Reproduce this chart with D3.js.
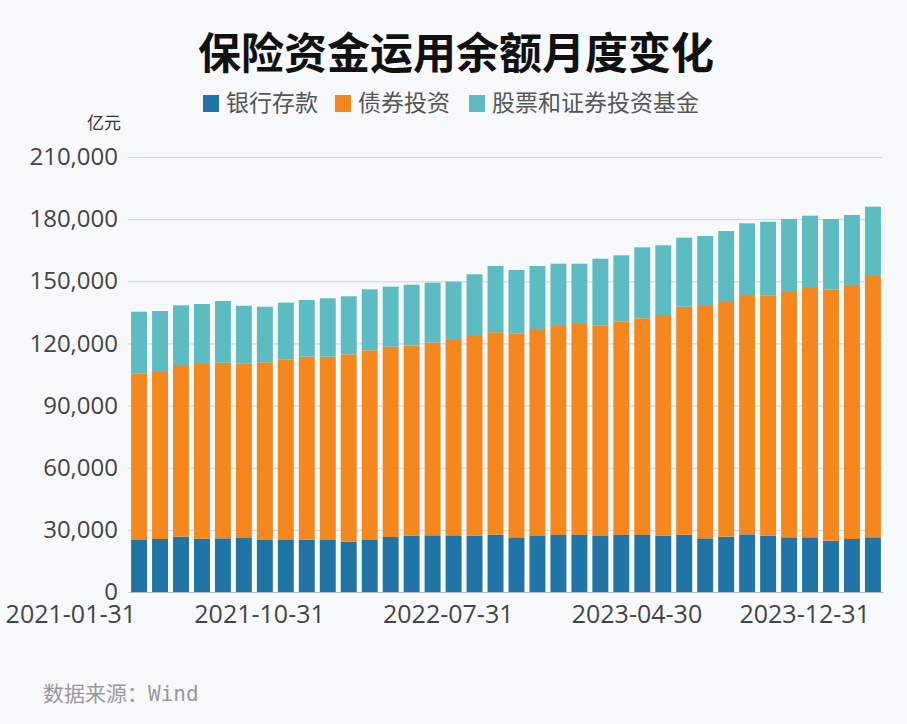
<!DOCTYPE html>
<html>
<head>
<meta charset="utf-8">
<script src="https://cdn.jsdelivr.net/npm/d3@7/dist/d3.min.js"></script>
<style>
  html, body { margin: 0; padding: 0; background: #f8f9fb; }
  svg { display: block; }
</style>
</head>
<body>
<svg id="chart" width="907" height="724"></svg>
<script>
const categories = [
  "2021-01-31","2021-02-28","2021-03-31","2021-04-30","2021-05-31","2021-06-30",
  "2021-07-31","2021-08-31","2021-09-30","2021-10-31","2021-11-30","2021-12-31",
  "2022-01-31","2022-02-28","2022-03-31","2022-04-30","2022-05-31","2022-06-30",
  "2022-07-31","2022-08-31","2022-09-30","2022-10-31","2022-11-30","2022-12-31",
  "2023-01-31","2023-02-28","2023-03-31","2023-04-30","2023-05-31","2023-06-30",
  "2023-07-31","2023-08-31","2023-09-30","2023-10-31","2023-11-30","2023-12-31"
];
const seriesNames = ["银行存款", "债券投资", "股票和证券投资基金"];
const deposits = [
  25100, 25590, 26700, 25730, 25910, 26070, 25100, 25100, 25270, 25100, 24300, 25100,
  26550, 27180, 27350, 27350, 27180, 27660, 26400, 27030, 27520, 27520, 27030, 27520,
  27520, 27180, 27660, 25910, 26700, 27840, 27180, 26400, 26400, 24770, 25590, 26400
];
const bonds = [
  80480, 80620, 82890, 84340, 84790, 84340, 85790, 87240, 88320, 88490, 90450, 91580,
  91870, 91720, 93000, 94310, 96410, 97740, 98490, 99450, 100900, 101860, 101530, 102970,
  104610, 106540, 110070, 112160, 113780, 115540, 115860, 118430, 120360, 121360, 122620, 126150
];
const stocks = [
  29740, 29440, 28810, 28970, 29780, 27800, 26840, 27320, 27380, 28200, 28000, 29450,
  28980, 29460, 28970, 28140, 29780, 31980, 30560, 30900, 30080, 29120, 32350, 32060,
  34280, 33650, 33310, 33790, 33790, 34610, 35720, 35240, 34900, 33940, 33790, 33460
];
const yTicks = [0, 30000, 60000, 90000, 120000, 150000, 180000, 210000];
const xTickLabels = ["2021-01-31", "2021-10-31", "2022-07-31", "2023-04-30", "2023-12-31"];
const colors = ["#2175a6", "#f5871f", "#5cbcc2"];

const svg = d3.select("#chart");
const W = 907, H = 724;
svg.append("rect").attr("width", W).attr("height", H).attr("fill", "#f8f9fb");

const plot = { left: 129, right: 883, top: 157, bottom: 592 };

const rows = categories.map((c, i) => ({ date: c, d: deposits[i], b: bonds[i], s: stocks[i] }));
const stack = d3.stack().keys(["d", "b", "s"])(rows);

const x = d3.scaleBand().domain(categories).range([plot.left, plot.right])
  .paddingInner(0.24).paddingOuter(0.1);
const y = d3.scaleLinear().domain([0, 210000]).range([plot.bottom, plot.top]);

const cjk = "'Noto Sans CJK SC', 'Noto Sans', sans-serif";
const latin = "'Open Sans', 'Noto Sans CJK SC', sans-serif";

// Title
svg.append("text").attr("x", 456).attr("y", 69).attr("text-anchor", "middle")
  .attr("font-family", cjk).attr("font-weight", "bold").attr("font-size", 43)
  .attr("fill", "#111").text("保险资金运用余额月度变化");

// Legend
const legend = svg.append("g");
const legendX = [203, 335, 469];
seriesNames.forEach((name, i) => {
  legend.append("rect").attr("x", legendX[i]).attr("y", 95).attr("width", 16).attr("height", 17)
    .attr("fill", colors[i]);
  legend.append("text").attr("x", legendX[i] + 23).attr("y", 111)
    .attr("font-family", cjk).attr("font-size", 23).attr("fill", "#555").text(name);
});

// Unit
svg.append("text").attr("x", 121).attr("y", 129).attr("text-anchor", "end")
  .attr("font-family", cjk).attr("font-size", 17).attr("fill", "#333").text("亿元");

// Y axis with gridlines
const yAxis = d3.axisLeft(y).tickValues(yTicks).tickFormat(d3.format(",")).tickSize(0).tickPadding(10);
const gy = svg.append("g").attr("transform", `translate(${plot.left - 1},0)`).call(yAxis);
gy.select(".domain").remove();
gy.selectAll("text").attr("font-family", latin).attr("font-size", 24).attr("fill", "#444");

const grid = d3.axisLeft(y).tickValues(yTicks).tickSize(-(plot.right - plot.left)).tickFormat("");
const gg = svg.append("g").attr("transform", `translate(${plot.left - 1},0)`).call(grid);
gg.select(".domain").remove();
gg.selectAll("line").attr("stroke", "#cfd2d6").attr("stroke-width", 1);

// Bars
svg.append("g").selectAll("g").data(stack).join("g")
  .attr("fill", (d, i) => colors[i])
  .selectAll("rect").data(d => d).join("rect")
  .attr("x", d => x(d.data.date))
  .attr("y", d => y(d[1]))
  .attr("width", x.bandwidth())
  .attr("height", d => y(d[0]) - y(d[1]));

// X axis
const xAxis = d3.axisBottom(x).tickValues(xTickLabels).tickSize(0).tickPadding(13);
const gx = svg.append("g").attr("transform", `translate(0,${plot.bottom})`).call(xAxis);
gx.select(".domain").attr("stroke", "#bbb");
gx.selectAll("text").attr("font-family", latin).attr("font-size", 25).attr("fill", "#444")
  .attr("text-anchor", "end")
  .attr("dx", -3);

// Source
svg.append("text").attr("x", 43).attr("y", 701)
  .attr("font-family", "'DejaVu Sans Mono', 'Noto Sans CJK SC', monospace")
  .attr("font-size", 21).attr("fill", "#999").text("数据来源：Wind");
</script>
</body>
</html>
